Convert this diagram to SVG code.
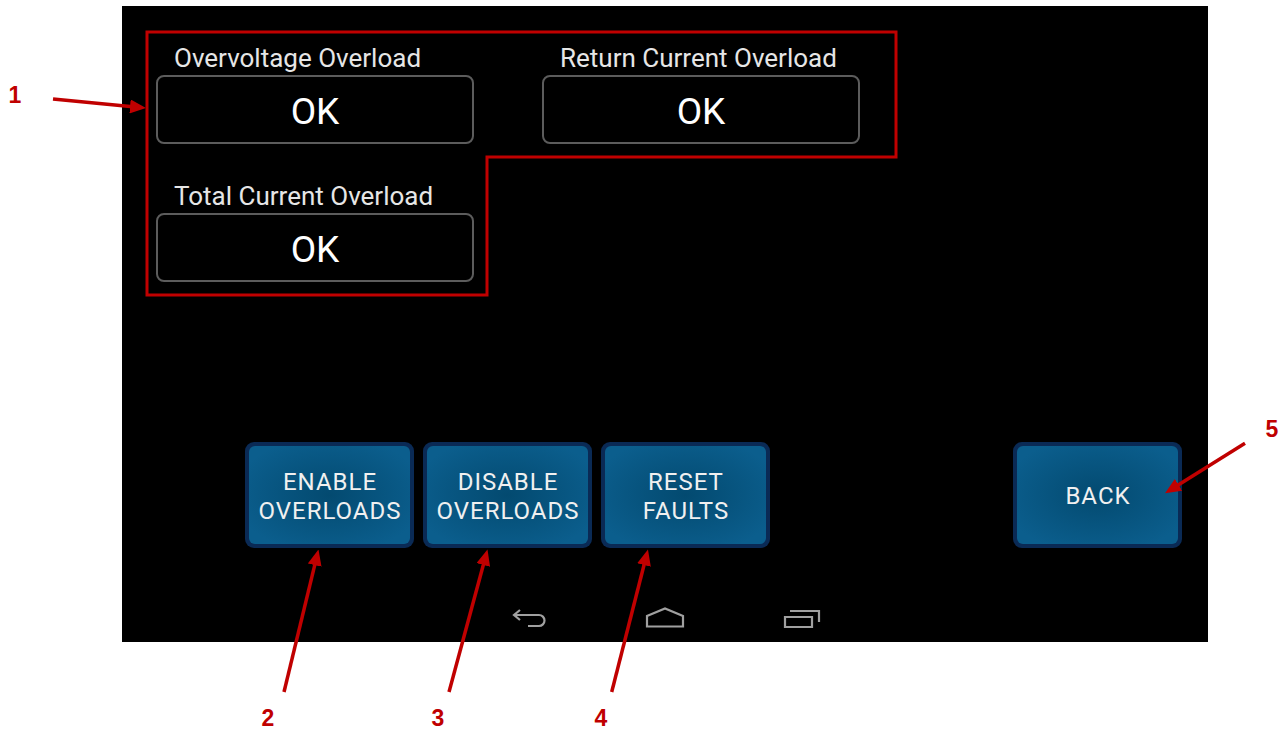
<svg xmlns="http://www.w3.org/2000/svg" width="1284" height="730" viewBox="0 0 1284 730">
<defs>
<style>
.lbl{font-family:Roboto,"Open Sans",sans-serif;font-size:26px;fill:#e6e6e6}
.ok{font-family:Roboto,"Open Sans",sans-serif;font-size:37px;fill:#ffffff;text-anchor:middle}
.field{fill:#000;stroke:#5c5c5c;stroke-width:2}
.btnout{fill:#0a2a55}
.btnin{fill:url(#bg)}
.btxt{font-family:Roboto,"Open Sans",sans-serif;font-size:24px;fill:#f0f0f0;text-anchor:middle;letter-spacing:1px}
.nav{fill:none;stroke:#a0a0a0;stroke-width:2.2}
.arr{stroke:#c00000;stroke-width:3.5;fill:none;marker-end:url(#ah)}
.num{font-family:"Liberation Sans",Arial,sans-serif;font-weight:bold;font-size:23px;fill:#c00000;text-anchor:middle}
</style>
<radialGradient id="bg" cx="0.5" cy="0.5" r="0.6">
<stop offset="0" stop-color="#034a70"/>
<stop offset="1" stop-color="#0b5e8d"/>
</radialGradient>
<marker id="ah" markerUnits="userSpaceOnUse" markerWidth="16" markerHeight="14" refX="8" refY="7" orient="auto" viewBox="0 0 16 14">
<path d="M0,0 L16,7 L0,14 z" fill="#c00000"/>
</marker>
</defs>
<rect width="1284" height="730" fill="#ffffff"/>
<rect id="screen" x="122" y="6" width="1086" height="636" fill="#000000"/>

<g id="highlight">
<polygon points="147,32 896,32 896,157 487,157 487,295 147,295" fill="none" stroke="#c00000" stroke-width="3"/>
</g>

<g id="overvoltage">
<text class="lbl" x="174" y="67">Overvoltage Overload</text>
<rect class="field" x="157" y="76" width="316" height="67" rx="7"/>
<text class="ok" x="315" y="124">OK</text>
</g>
<g id="return-current">
<text class="lbl" x="560" y="67">Return Current Overload</text>
<rect class="field" x="543" y="76" width="316" height="67" rx="7"/>
<text class="ok" x="701" y="124">OK</text>
</g>
<g id="total-current">
<text class="lbl" x="174" y="205">Total Current Overload</text>
<rect class="field" x="157" y="214" width="316" height="67" rx="7"/>
<text class="ok" x="315" y="262">OK</text>
</g>

<g id="btn-enable">
<rect class="btnout" x="245" y="442" width="169" height="106" rx="9"/>
<rect class="btnin" x="249" y="446" width="161" height="98" rx="6"/>
<text class="btxt" x="330" y="490">ENABLE</text>
<text class="btxt" x="330" y="519">OVERLOADS</text>
</g>
<g id="btn-disable">
<rect class="btnout" x="423" y="442" width="169" height="106" rx="9"/>
<rect class="btnin" x="427" y="446" width="161" height="98" rx="6"/>
<text class="btxt" x="508" y="490">DISABLE</text>
<text class="btxt" x="508" y="519">OVERLOADS</text>
</g>
<g id="btn-reset">
<rect class="btnout" x="601" y="442" width="169" height="106" rx="9"/>
<rect class="btnin" x="605" y="446" width="161" height="98" rx="6"/>
<text class="btxt" x="686" y="490">RESET</text>
<text class="btxt" x="686" y="519">FAULTS</text>
</g>
<g id="btn-back">
<rect class="btnout" x="1013" y="442" width="169" height="106" rx="9"/>
<rect class="btnin" x="1017" y="446" width="161" height="98" rx="6"/>
<text class="btxt" x="1098" y="504">BACK</text>
</g>

<g id="navbar">
<path class="nav" d="M520,610 L514,615 L520,620 M514,615 L539,615 A5.5,5.5 0 0 1 539,626 L528,626"/>
<path class="nav" d="M647,626.5 L647,616 L665,608.5 L683,616 L683,626.5 Z"/>
<path class="nav" d="M785,617 L812,617 L812,627 L785,627 Z M790,611 L819,611 L819,622"/>
</g>

<g id="connectors">
<line class="arr" x1="53" y1="99" x2="138" y2="107.2"/>
<line class="arr" x1="284" y1="692" x2="316.6" y2="557.3"/>
<line class="arr" x1="449" y1="692" x2="485.4" y2="557.2"/>
<line class="arr" x1="611.7" y1="692" x2="646" y2="557.3"/>
<line class="arr" x1="1245" y1="443.3" x2="1171.8" y2="489.1"/>
</g>

<g id="callouts">
<text class="num" x="15" y="103">1</text>
<text class="num" x="268" y="726">2</text>
<text class="num" x="438" y="726">3</text>
<text class="num" x="601" y="726">4</text>
<text class="num" x="1272" y="437">5</text>
</g>
</svg>
